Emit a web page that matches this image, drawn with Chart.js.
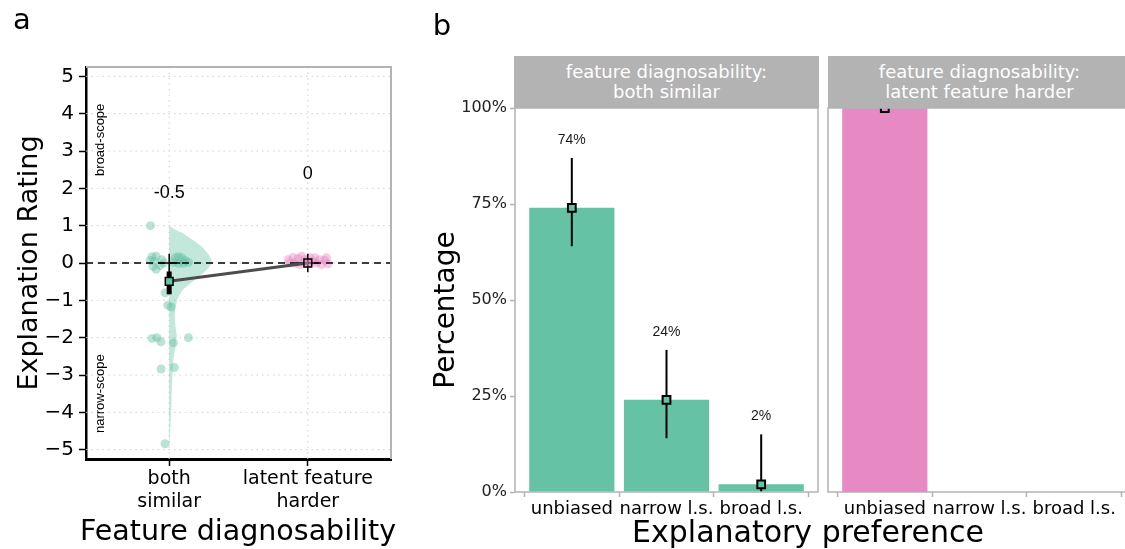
<!DOCTYPE html>
<html>
<head>
<meta charset="utf-8">
<script src="https://cdn.jsdelivr.net/npm/chart.js@4.4.0/dist/chart.umd.min.js"></script>
<style>
body { margin: 0; width: 1125px; height: 549px; overflow: hidden; background: #fff; position: relative; font-family: "DejaVu Sans", sans-serif; }
canvas { position: absolute; top: 0; }
.txt { position: absolute; white-space: nowrap; color: #000; transform: translate(-50%, -50%); }
.rot { transform: translate(-50%, -50%) rotate(-90deg); }
.strip { position: absolute; top: 56px; height: 52px; background: #b3b3b3; color: #fff; font-size: 18px; line-height: 20px; text-align: center; display: flex; align-items: center; justify-content: center; z-index: 5; }
</style>
</head>
<body>
<canvas id="chartA" width="410" height="549" style="left:0px"></canvas>
<canvas id="chartB1" width="400" height="549" style="left:420px"></canvas>
<canvas id="chartB2" width="320" height="549" style="left:823px"></canvas>

<div class="txt" style="left:22px;top:19px;font-size:29px">a</div>
<div class="txt" style="left:442px;top:25px;font-size:29px">b</div>
<div class="txt rot" style="left:27px;top:263px;font-size:27px">Explanation Rating</div>
<div class="txt" style="left:238px;top:530px;font-size:28.5px">Feature diagnosability</div>
<div class="txt rot" style="left:444px;top:310px;font-size:28px">Percentage</div>
<div class="txt" style="left:808px;top:531px;font-size:30px">Explanatory preference</div>
<div class="strip" style="left:514px;width:305px">feature diagnosability:<br>both similar</div>
<div class="strip" style="left:828px;width:303px">feature diagnosability:<br>latent feature harder</div>

<script>
// panel a: ratings
var groupLabels = [['both', 'similar'], ['latent feature', 'harder']];
var ratingTicks = [-5, -4, -3, -2, -1, 0, 1, 2, 3, 4, 5];
var meanRating = [-0.49, 0];
var medianRating = [0, 0];
var meanText = ['-0.5', '0'];
var meanTextY = [1.88, 2.39];
var ciLow = [-0.84, -0.25];
var ciHigh = [0.25, 0.25];
var seLow = [-0.84];
var seHigh = [-0.23];

var similarX = [0.865, 0.876, 0.906, 0.863, 0.892, 0.883, 0.906, 0.935, 0.947, 0.959, 1.043, 1.067, 1.091, 1.115, 1.103, 1.067, 1.139, 1.031,
    0.97, 0.99, 1.014, 0.876, 0.912, 0.94, 1.031, 1.139, 0.942, 1.037, 0.97];
var similarY = [1.0, 0.17, 0.18, 0.07, 0.05, -0.09, -0.17, -0.07, 0.09, 0.0, 0.14, 0.17, 0.14, 0.07, -0.01, -0.01, 0.02, 0.02,
    -0.8, -1.13, -1.18, -2.02, -2.0, -2.11, -2.14, -2.0, -2.84, -2.8, -4.84];
var harderX = [1.858, 1.894, 1.930, 1.906, 1.942, 1.978, 2.014, 2.038, 2.062, 2.086, 2.122, 2.146, 2.098, 1.870, 1.955, 2.002, 2.050, 2.134];
var harderY = [0.09, 0.15, 0.12, 0.0, -0.04, 0.09, 0.14, 0.05, 0.0, 0.09, 0.07, -0.02, -0.04, 0.0, 0.18, -0.02, 0.14, 0.14];

// half violin for "both similar": rating and half width
var violinY = [1.0, 0.9, 0.8, 0.67, 0.54, 0.4, 0.25, 0.12, 0, -0.15, -0.35, -0.52, -0.71, -0.85, -0.97, -1.2, -1.42, -1.7,
    -1.95, -2.25, -2.57, -3.19, -3.9, -4.6, -4.95];
var violinW = [0, 0.04, 0.10, 0.15, 0.20, 0.245, 0.28, 0.30, 0.307, 0.28, 0.22, 0.16, 0.10, 0.075, 0.06, 0.045, 0.04, 0.045,
    0.055, 0.045, 0.03, 0.02, 0.015, 0.006, 0];

// panel b: explanatory preference
var prefCats = ['unbiased', 'narrow l.s.', 'broad l.s.'];
var pctTicks = [0, 25, 50, 75, 100];
var similarPct = [74, 24, 2];
var similarLo = [64, 14, 0];
var similarHi = [87, 37, 15];
var harderPct = [100, 0, 0];
var harderLo = [100, null, null];
var harderHi = [100, null, null];

var GREEN = '#66c2a5';
var PINK = '#e78ac3';
var GRAY = '#b3b3b3';

Chart.defaults.font.family = 'DejaVu Sans';
Chart.defaults.animation = false;

function pts(xs, ys) {
    return xs.map(function(x, i) { return {x: x, y: ys[i]}; });
}

var violinPts = violinY.map(function(y, i) { return {x: 1 + violinW[i], y: y}; });
violinPts.push({x: 1, y: violinY[violinY.length - 1]});
violinPts.push({x: 1, y: violinY[0]});

var gridA = {
    id: 'gridA',
    beforeDatasetsDraw: function(chart) {
        var c = chart.ctx, a = chart.chartArea, xs = chart.scales.x, ys = chart.scales.y;
        c.save();
        c.strokeStyle = '#d0d0d0';
        c.lineWidth = 1;
        c.setLineDash([1.5, 4]);
        ratingTicks.forEach(function(v) {
            var y = ys.getPixelForValue(v);
            c.beginPath(); c.moveTo(a.left, y); c.lineTo(a.right, y); c.stroke();
        });
        [1, 2].forEach(function(v) {
            var x = xs.getPixelForValue(v);
            c.beginPath(); c.moveTo(x, a.top); c.lineTo(x, a.bottom); c.stroke();
        });
        c.restore();
    },
    afterDatasetsDraw: function(chart) {
        var c = chart.ctx, a = chart.chartArea, xs = chart.scales.x, ys = chart.scales.y;
        c.save();
        c.fillStyle = '#000';
        c.font = '18px "Liberation Sans", Arial';
        c.textAlign = 'center';
        c.textBaseline = 'middle';
        meanText.forEach(function(t, i) {
            c.fillText(t, xs.getPixelForValue(i + 1), ys.getPixelForValue(meanTextY[i]));
        });
        c.font = '13px "Liberation Sans", Arial';
        c.translate(a.left + 14, ys.getPixelForValue(3.3));
        c.rotate(-Math.PI / 2);
        c.fillText('broad-scope', 0, 0);
        c.rotate(Math.PI / 2);
        c.translate(0, ys.getPixelForValue(-3.5) - ys.getPixelForValue(3.3));
        c.rotate(-Math.PI / 2);
        c.fillText('narrow-scope', 0, 0);
        c.restore();
    },
    afterDraw: function(chart) {
        var c = chart.ctx, a = chart.chartArea;
        c.save();
        c.strokeStyle = GRAY;
        c.lineWidth = 2;
        c.beginPath();
        c.moveTo(a.left, a.top); c.lineTo(a.right, a.top); c.lineTo(a.right, a.bottom);
        c.stroke();
        c.restore();
    }
};

function seg(x0, y0, x1, y1, color, width, order) {
    return {type: 'line', data: [{x: x0, y: y0}, {x: x1, y: y1}], borderColor: color, borderWidth: width,
        pointRadius: 0, fill: false, order: order};
}

var dsA = [
    {type: 'line', data: violinPts, fill: 'shape', backgroundColor: 'rgba(102,194,165,0.4)', borderWidth: 0,
        pointRadius: 0, tension: 0, order: 20},
    {type: 'scatter', data: pts(similarX, similarY), backgroundColor: 'rgba(102,194,165,0.45)', borderWidth: 0,
        pointRadius: 4.5, order: 15},
    {type: 'scatter', data: pts(harderX, harderY), backgroundColor: 'rgba(231,138,195,0.45)', borderWidth: 0,
        pointRadius: 4.5, order: 14},
    seg(0.4, 0, 2.6, 0, '#000', 1.3, 12),
    seg(1, ciHigh[0], 1, ciLow[0], '#000', 1.5, 8),
    seg(1, seHigh[0], 1, seLow[0], '#000', 5, 7),
    seg(1 - 0.08, medianRating[0], 1 + 0.08, medianRating[0], '#000', 1.5, 8),
    seg(2, ciHigh[1], 2, ciLow[1], '#000', 1.5, 8),
    seg(2 - 0.08, medianRating[1], 2 + 0.08, medianRating[1], '#000', 1.5, 8),
    seg(1, meanRating[0], 2, meanRating[1], '#4d4d4d', 3, 5),
    {type: 'scatter', data: [{x: 1, y: meanRating[0]}, {x: 2, y: meanRating[1]}], pointStyle: 'rect',
        pointRadius: 5.5, backgroundColor: [GREEN, 'rgba(231,138,195,0.5)'], borderColor: '#000', borderWidth: 1.5, order: 1}
];
dsA[3].borderDash = [7, 5];

new Chart(document.getElementById('chartA'), {
    type: 'scatter',
    data: {datasets: dsA},
    plugins: [gridA],
    options: {
        responsive: false,
        layout: {autoPadding: false, padding: {top: 67, right: 19, left: 0, bottom: 0}},
        plugins: {legend: {display: false}, tooltip: {enabled: false}},
        scales: {
            x: {
                type: 'linear', min: 0.4, max: 2.6,
                afterBuildTicks: function(s) { s.ticks = [{value: 1}, {value: 2}]; },
                afterFit: function(s) { s.height = 90; },
                ticks: {callback: function(v) { return groupLabels[v - 1]; }, font: {size: 19, lineHeight: 1.2}, color: '#000',
                    padding: 2, autoSkip: false, maxRotation: 0},
                grid: {drawOnChartArea: false, tickLength: 7, tickColor: '#000', tickWidth: 1.5},
                border: {display: true, color: '#000', width: 3}
            },
            y: {
                type: 'linear', min: -5.25, max: 5.25,
                afterBuildTicks: function(s) { s.ticks = ratingTicks.map(function(v) { return {value: v}; }); },
                afterFit: function(s) { s.width = 86; },
                ticks: {callback: function(v) { return String(v).replace('-', '\u2212'); }, font: {size: 20}, color: '#000', padding: 5},
                grid: {drawOnChartArea: false, tickLength: 7, tickColor: '#000', tickWidth: 1.5},
                border: {display: true, color: '#000', width: 2.5}
            }
        }
    }
});

function facetPlugin(lo, hi, labels) {
    return {
        id: 'facet',
        beforeDatasetDraw: function(chart, args) {
            if (args.index !== 1) return;
            var c = chart.ctx, xs = chart.scales.x, ys = chart.scales.y;
            c.save();
            c.strokeStyle = '#000';
            c.lineWidth = 2;
            lo.forEach(function(l, i) {
                if (l === null) return;
                var x = xs.getPixelForValue(i + 1);
                c.beginPath(); c.moveTo(x, ys.getPixelForValue(l)); c.lineTo(x, ys.getPixelForValue(hi[i])); c.stroke();
            });
            c.restore();
        },
        afterDatasetsDraw: function(chart) {
            var c = chart.ctx, xs = chart.scales.x, ys = chart.scales.y, a = chart.chartArea;
            c.save();
            if (labels) {
                c.fillStyle = '#1a1a1a';
                c.font = '14px "Liberation Sans", Arial';
                c.textAlign = 'center';
                c.textBaseline = 'middle';
                labels.forEach(function(v, i) {
                    if (hi[i] === null) return;
                    c.fillText(v + '%', xs.getPixelForValue(i + 1), ys.getPixelForValue(hi[i] + 4.7));
                });
            }
            c.strokeStyle = GRAY;
            c.lineWidth = 1.5;
            c.strokeRect(a.left, a.top, a.right - a.left, a.bottom - a.top);
            c.restore();
        }
    };
}

function facetConfig(vals, lo, hi, color, showY, labels) {
    var markers = [];
    vals.forEach(function(v, i) { if (lo[i] !== null) markers.push({x: i + 1, y: v}); });
    return {
        type: 'bar',
        data: {
            datasets: [
                {type: 'bar', data: vals.map(function(v, i) { return {x: i + 1, y: v}; }), backgroundColor: color,
                    borderWidth: 0, barPercentage: 0.9, categoryPercentage: 1.0, order: 2},
                {type: 'scatter', data: markers, pointStyle: 'rect', pointRadius: 5.5, backgroundColor: color,
                    borderColor: '#000', borderWidth: 2, clip: false, order: 1}
            ]
        },
        plugins: [facetPlugin(lo, hi, labels)],
        options: {
            responsive: false,
            layout: {autoPadding: false,
                padding: showY ? {top: 108, right: 2, left: 0, bottom: 0} : {top: 108, right: 12, left: 5, bottom: 0}},
            plugins: {legend: {display: false}, tooltip: {enabled: false}},
            scales: {
                x: {
                    type: 'linear', min: 0.4, max: 3.6, offset: false,
                    afterBuildTicks: function(s) { s.ticks = prefCats.map(function(c, i) { return {value: i + 1}; }); },
                    afterFit: function(s) { s.height = 57; },
                    ticks: {callback: function(v) { return prefCats[v - 1]; }, font: {size: 18}, color: '#000',
                        padding: 2, autoSkip: false, maxRotation: 0, minRotation: 0},
                    grid: {drawOnChartArea: false, tickLength: 5, tickColor: GRAY, tickWidth: 1.5},
                    border: {display: false}
                },
                y: {
                    display: showY, min: 0, max: 100,
                    afterBuildTicks: function(s) { s.ticks = pctTicks.map(function(v) { return {value: v}; }); },
                    afterFit: function(s) { if (showY) s.width = 95; },
                    ticks: {callback: function(v) { return v + '%'; }, font: {size: 16}, color: '#222', padding: 3},
                    grid: {drawOnChartArea: false, tickLength: 5, tickColor: GRAY, tickWidth: 1.5},
                    border: {display: false}
                }
            }
        }
    };
}

new Chart(document.getElementById('chartB1'), facetConfig(similarPct, similarLo, similarHi, GREEN, true, similarPct));
new Chart(document.getElementById('chartB2'), facetConfig(harderPct, harderLo, harderHi, PINK, false, null));
</script>
</body>
</html>
